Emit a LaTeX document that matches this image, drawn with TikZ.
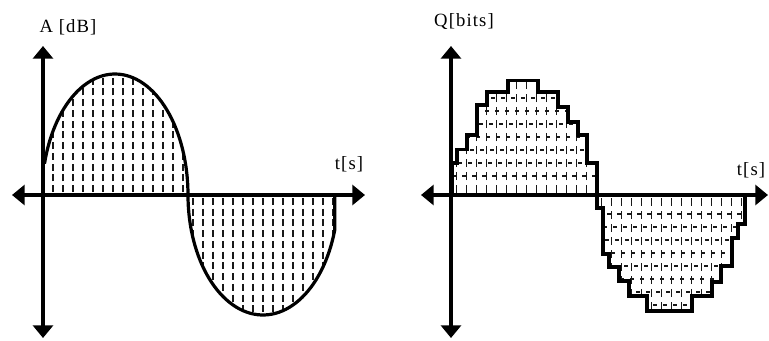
\documentclass[tikz,border=0pt]{standalone}
\usepackage{fontspec}
\newfontfamily\lblfont[LetterSpace=6]{Liberation Serif}
\usetikzlibrary{arrows.meta}
\tikzset{
  axis/.style={line width=2.3pt, {Triangle[width=15pt,length=9.5pt]}-{Triangle[width=15pt,length=9.5pt]}},
  wave/.style={line width=2.4pt, line join=round},
  stairs/.style={line width=2.6pt, line join=miter},
  vhatch/.style={line width=1.5pt, draw=black!90, dash pattern=on 5.25pt off 2.8pt},
  qhatch/.style={line width=1.4pt, draw=black!90, dash pattern=on 6pt off 3.75pt},
  hhatch/.style={line width=1.3pt, draw=black!90, dash pattern=on 2.8pt off 4.7pt},
  lbl/.style={font=\lblfont\fontsize{14pt}{16pt}\selectfont, inner sep=0pt},
}
% staircase outlines of the quantised signal
\def\upstair{(452,196) -- (452,163) -- (457,163) -- (457,149.5) -- (467,149.5) -- (467,135) -- (477,135) -- (477,105) -- (487,105) -- (487,92) -- (508,92) -- (508,80.5) -- (538,80.5) -- (538,92) -- (558,92) -- (558,107) -- (568,107) -- (568,122) -- (578,122) -- (578,135) -- (587,135) -- (587,163) -- (597,163) -- (597,196)}
\def\lowstair{(597,196) -- (597,208) -- (603,208) -- (603,254) -- (609,254) -- (609,267) -- (619,267) -- (619,281) -- (629,281) -- (629,296) -- (647,296) -- (647,311) -- (692,311) -- (692,296) -- (712,296) -- (712,282) -- (721,282) -- (721,266) -- (732,266) -- (732,238) -- (738,238) -- (738,224) -- (745,224) -- (745,196)}
\begin{document}
\begin{tikzpicture}[x=0.75pt, y=-0.75pt]
  \useasboundingbox (0,0) rectangle (769,340);
  % analog signal
  \begin{scope}
    \clip (188,195) -- plot[domain=0:165, samples=60] ({115+73*cos(\x)},{195-121*sin(\x)}) -- (44.5,195) -- cycle;
    \foreach \c in {52.5,62.5,...,182.5} \draw[vhatch] (\c,192) -- (\c,70);
  \end{scope}
  \begin{scope}
    \clip (188,195) -- plot[domain=180:343, samples=60] ({263+75*cos(\x)},{195-120*sin(\x)}) -- (334.7,195) -- cycle;
    \foreach \c in {192.5,202.5,...,332.5} \draw[vhatch] (\c,198) -- (\c,320);
  \end{scope}
  \draw[wave] plot[domain=165:0, samples=60] ({115+73*cos(\x)},{195-121*sin(\x)});
  \draw[wave] plot[domain=180:343, samples=60] ({263+75*cos(\x)},{195-120*sin(\x)}) -- (334.7,195);
  \draw[axis] (12,195) -- (365,195);
  \draw[axis] (43,46) -- (43,338);
  \node[lbl] (ampl) at (68,27) {A [dB]};
  \node[lbl] (time1) at (349,164) {t[s]};
  % quantised signal
  \begin{scope}
    \clip \upstair -- cycle;
    \foreach \c in {456.5,466.5,...,596.5} \draw[qhatch] (\c,193) -- (\c,78);
    \foreach \r/\p in {176/0, 163/3, 150/1.5, 137/4.5, 124/2, 111/5, 98/0.5} \draw[hhatch, dash phase=\p pt] (452,\r) -- (597,\r);
  \end{scope}
  \begin{scope}
    \clip \lowstair -- cycle;
    \foreach \c in {601.5,611.5,...,741.5} \draw[qhatch] (\c,198) -- (\c,312);
    \foreach \r/\p in {214/0, 227/3, 240/1.5, 253/4.5, 266/2, 279/5, 292/0.5, 305/3} \draw[hhatch, dash phase=\p pt] (597,\r) -- (745,\r);
  \end{scope}
  \draw[stairs] \upstair;
  \draw[stairs] \lowstair;
  \draw[axis] (421,195) -- (768,195);
  \draw[axis] (451,46) -- (451,338);
  \node[lbl] (bits) at (464,22) {Q[bits]};
  \node[lbl] (time2) at (751,170) {t[s]};
\end{tikzpicture}
\end{document}
